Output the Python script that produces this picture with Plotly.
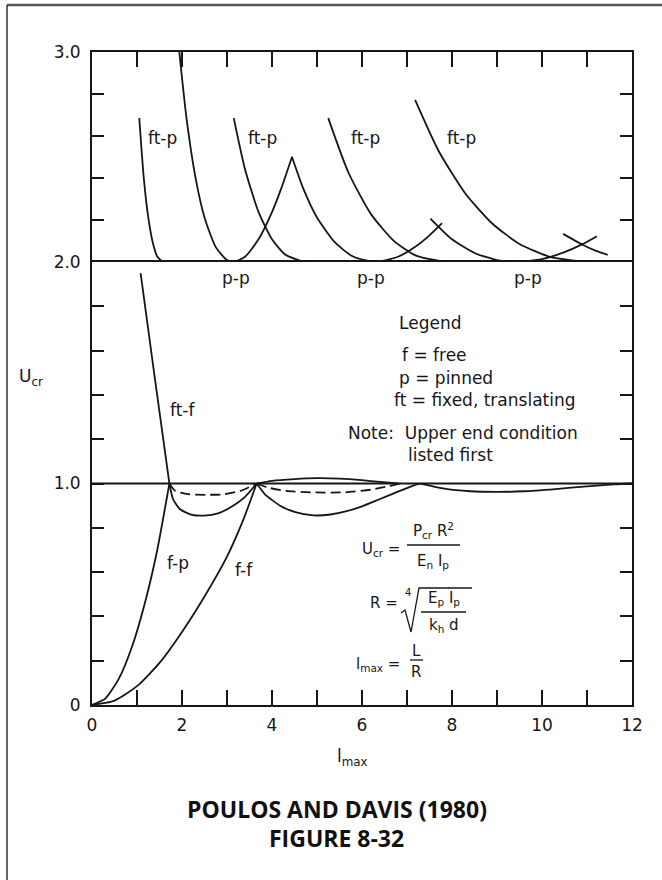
import plotly.graph_objects as go

INK = "#161616"

# ---- upper panel (U_cr from 2 to 3) ----
# pinned-pinned branches (p-p)
pp1_x = [1.94, 2.1, 2.3, 2.5, 2.75, 3.0, 3.14, 3.4, 3.7, 4.0, 4.2, 4.44]
pp1_y = [3.0, 2.685, 2.402, 2.212, 2.071, 2.009, 2.0, 2.025, 2.108, 2.238, 2.347, 2.498]
pp2_x = [4.44, 4.7, 5.0, 5.4, 5.8, 6.28, 6.8, 7.2, 7.5, 7.78]
pp2_y = [2.502, 2.347, 2.212, 2.093, 2.026, 2.0, 2.025, 2.075, 2.127, 2.185]
pp3_x = [7.52, 8.0, 8.5, 9.0, 9.42, 10.0, 10.5, 10.9, 11.22]
pp3_y = [2.207, 2.108, 2.043, 2.009, 2.0, 2.014, 2.047, 2.085, 2.123]
pp4_x = [10.47, 10.9, 11.2, 11.46]
pp4_y = [2.134, 2.082, 2.053, 2.034]

# fixed translating - pinned branches (ft-p)
ftp1_x = [1.05, 1.15, 1.25, 1.35, 1.45, 1.57]
ftp1_y = [2.686, 2.402, 2.212, 2.093, 2.026, 2.0]
ftp2_x = [3.15, 3.4, 3.7, 4.0, 4.3, 4.71]
ftp2_y = [2.685, 2.442, 2.239, 2.108, 2.034, 2.0]
ftp3_x = [5.25, 5.7, 6.2, 6.7, 7.2, 7.85]
ftp3_y = [2.685, 2.425, 2.228, 2.102, 2.030, 2.0]
ftp4_x = [7.18, 7.7, 8.3, 8.9, 9.5, 10.2, 11.0]
ftp4_y = [2.772, 2.530, 2.325, 2.182, 2.086, 2.023, 2.0]

# ---- lower panel (U_cr from 0 to 2) ----
ftf_x = [1.08, 1.4, 1.72]
ftf_y = [1.95, 1.47, 1.0]
fp_x = [0, 0.3, 0.6, 0.9, 1.2, 1.45, 1.72]
fp_y = [0, 0.03, 0.12, 0.27, 0.48, 0.70, 1.0]
ff_x = [0, 0.5, 1.0, 1.5, 2.0, 2.5, 3.0, 3.35, 3.66]
ff_y = [0, 0.02, 0.085, 0.19, 0.33, 0.49, 0.67, 0.83, 1.0]

dipA_x = [1.72, 1.8, 1.95, 2.2, 2.5, 2.8, 3.1, 3.4, 3.66]
dipA_y = [1.0, 0.93, 0.885, 0.86, 0.855, 0.865, 0.895, 0.94, 1.0]
dashA_x = [1.72, 1.85, 2.17, 2.54, 2.91, 3.29, 3.66]
dashA_y = [1.0, 0.966, 0.951, 0.949, 0.951, 0.966, 1.0]
dipB_x = [3.66, 3.85, 4.18, 4.5, 4.92, 5.3, 5.66, 6.0, 6.4, 6.8, 7.14, 7.3]
dipB_y = [1.0, 0.95, 0.90, 0.872, 0.856, 0.86, 0.875, 0.897, 0.93, 0.963, 0.99, 1.0]
humpB_x = [3.66, 4.0, 4.5, 5.0, 5.5, 6.0, 6.4, 6.8]
humpB_y = [1.0, 1.012, 1.02, 1.024, 1.022, 1.015, 1.007, 1.0]
dashB_x = [3.66, 3.9, 4.3, 4.9, 5.6, 6.2, 6.6, 6.85]
dashB_y = [1.0, 0.982, 0.967, 0.96, 0.96, 0.972, 0.988, 1.0]
dipC_x = [7.3, 7.8, 8.4, 9.0, 9.6, 10.3, 11.0, 11.6, 12.0]
dipC_y = [1.0, 0.978, 0.965, 0.962, 0.965, 0.975, 0.987, 0.996, 1.0]
unity_x = [0, 12]
unity_y = [1.0, 1.0]

low_ticks = [0, 1.0, 2.0]
low_ticktext = ["0", "1.0", "2.0"]
low_minor = [0.2, 0.4, 0.6, 0.8, 1.2, 1.4, 1.6, 1.8]
up_ticks = [3.0]
up_ticktext = ["3.0"]
up_minor = [2.2, 2.4, 2.6, 2.8]

fig = go.Figure()


def curve(x, y, upper=False, dash="solid"):
    fig.add_trace(go.Scatter(
        x=x, y=y, mode="lines",
        xaxis="x2" if upper else "x", yaxis="y2" if upper else "y",
        line=dict(color=INK, width=1.8, dash=dash, shape="spline", smoothing=0.6),
        hoverinfo="skip", showlegend=False))


for cx, cy in [(pp1_x, pp1_y), (pp2_x, pp2_y), (pp3_x, pp3_y), (pp4_x, pp4_y),
               (ftp1_x, ftp1_y), (ftp2_x, ftp2_y), (ftp3_x, ftp3_y), (ftp4_x, ftp4_y)]:
    curve(cx, cy, upper=True)

for cx, cy in [(unity_x, unity_y), (ftf_x, ftf_y), (fp_x, fp_y), (ff_x, ff_y),
               (dipA_x, dipA_y), (dipB_x, dipB_y), (humpB_x, humpB_y), (dipC_x, dipC_y)]:
    curve(cx, cy)
curve(dashA_x, dashA_y, dash="10px,5px")
curve(dashB_x, dashB_y, dash="10px,5px")

axis_common = dict(showgrid=False, zeroline=False, showline=True, linewidth=1.8,
                   linecolor=INK, ticks="inside", tickcolor=INK, tickwidth=1.5)
x_minor = dict(dtick=1, ticks="inside", ticklen=15, tickwidth=1.5, tickcolor=INK)
y_minor_low = dict(tickmode="array", tickvals=low_minor, ticks="inside", ticklen=12,
                   tickwidth=1.5, tickcolor=INK)
y_minor_up = dict(tickmode="array", tickvals=up_minor, ticks="inside", ticklen=12,
                  tickwidth=1.5, tickcolor=INK)

fig.update_layout(
    width=662, height=880,
    margin=dict(l=92, r=30, t=52, b=175),
    paper_bgcolor="white", plot_bgcolor="white",
    showlegend=False,
    font=dict(family="DejaVu Sans", size=17, color=INK),
    xaxis=dict(domain=[0, 1], anchor="y", range=[0, 12], tick0=0, dtick=2,
               ticklen=15, mirror=True, ticklabelstandoff=4, minor=x_minor,
               **axis_common),
    xaxis2=dict(domain=[0, 1], anchor="y2", range=[0, 12], matches="x",
                tick0=0, dtick=1, side="top", showticklabels=False,
                ticklen=15, mirror=False, **axis_common),
    yaxis=dict(domain=[0, 0.6784], anchor="x", range=[0, 2], tickmode="array",
               tickvals=low_ticks, ticktext=low_ticktext, ticklen=12, mirror="ticks",
               ticklabelstandoff=6, minor=y_minor_low, **axis_common),
    yaxis2=dict(domain=[0.6784, 1], anchor="x2", range=[2, 3], tickmode="array",
                tickvals=up_ticks, ticktext=up_ticktext, ticklen=12, mirror="ticks",
                ticklabelstandoff=6, minor=y_minor_up, **axis_common),
)

ann = []


def label(text, x, y, upper=False, xanchor="center", size=17):
    ann.append(dict(text=text, x=x, y=y, xref="x2" if upper else "x",
                    yref="y2" if upper else "y", xanchor=xanchor, yanchor="middle",
                    showarrow=False, font=dict(size=size, color=INK)))


for lx in [1.56, 3.78, 6.07, 8.2]:
    label("ft-p", lx, 2.59, upper=True)
for lx in [3.2, 6.2, 9.69]:
    label("p-p", lx, 1.93)
label("ft-f", 2.0, 1.33)
label("f-p", 1.91, 0.64)
label("f-f", 3.38, 0.61)

label("Legend", 6.78, 1.725, xanchor="left")
label("f = free", 6.84, 1.58, xanchor="left")
label("p = pinned", 6.78, 1.476, xanchor="left")
label("ft = fixed, translating", 6.67, 1.377, xanchor="left")
label("Note:  Upper end condition", 5.64, 1.228, xanchor="left")
label("listed first", 6.98, 1.129, xanchor="left")

# formulas
label("U<sub>cr</sub> =", 6.889, 0.704, xanchor="right", size=15)
label("P<sub>cr</sub> R<sup>2</sup>", 7.578, 0.79, size=15)
label("E<sub>n</sub> I<sub>p</sub>", 7.578, 0.65, size=15)
label("R =", 6.844, 0.4605, xanchor="right", size=15)
label("4", 7.02, 0.51, size=10)
label("E<sub>p</sub> I<sub>p</sub>", 7.822, 0.4786, size=15)
label("k<sub>h</sub> d", 7.822, 0.3567, size=15)
label("l<sub>max</sub> =", 6.889, 0.1806, xanchor="right", size=15)
label("L", 7.2, 0.2438, size=15)
label("R", 7.2, 0.149, size=15)

ann.append(dict(text="U<sub>cr</sub>", x=-0.139, y=0.502, xref="paper", yref="paper",
                xanchor="left", yanchor="middle", showarrow=False, font=dict(size=17)))
ann.append(dict(text="l<sub>max</sub>", x=0.483, y=-0.081, xref="paper", yref="paper",
                xanchor="center", yanchor="middle", showarrow=False, font=dict(size=17)))
ann.append(dict(text="<b>POULOS AND DAVIS (1980)</b>", x=0.4537, y=-0.159,
                xref="paper", yref="paper", xanchor="center", yanchor="middle",
                showarrow=False, font=dict(family="Open Sans", size=23, color="#111")))
ann.append(dict(text="<b>FIGURE 8-32</b>", x=0.4537, y=-0.204,
                xref="paper", yref="paper", xanchor="center", yanchor="middle",
                showarrow=False, font=dict(family="Open Sans", size=23, color="#111")))
fig.update_layout(annotations=ann)

shapes = [
    # fraction bars and radical of the formula block
    dict(type="line", xref="x", yref="y", x0=7.0, x1=8.178, y0=0.7223, y1=0.7223),
    dict(type="line", xref="x", yref="y", x0=7.311, x1=8.311, y0=0.4199, y1=0.4199),
    dict(type="line", xref="x", yref="y", x0=7.067, x1=7.356, y0=0.2032, y1=0.2032),
    dict(type="path", xref="x", yref="y",
         path="M 6.867 0.4153 L 6.956 0.4289 L 7.089 0.3296 L 7.267 0.5282 L 8.444 0.5282"),
    # frame of the page
    dict(type="line", xref="paper", yref="paper", x0=-0.1574, x1=1.07, y0=1.072, y1=1.072,
         line=dict(color="#555", width=2.5)),
    dict(type="line", xref="paper", yref="paper", x0=-0.1574, x1=-0.1574, y0=1.072, y1=-0.3,
         line=dict(color="#333", width=1.5)),
]
for s in shapes[:4]:
    s["line"] = dict(color=INK, width=1.3)
fig.update_layout(shapes=shapes)

# drop the browser's default page margin so the figure sits at the window origin
fig.write_html("out.html", config={"displayModeBar": False},
               post_script="document.body.style.margin='0px';")
